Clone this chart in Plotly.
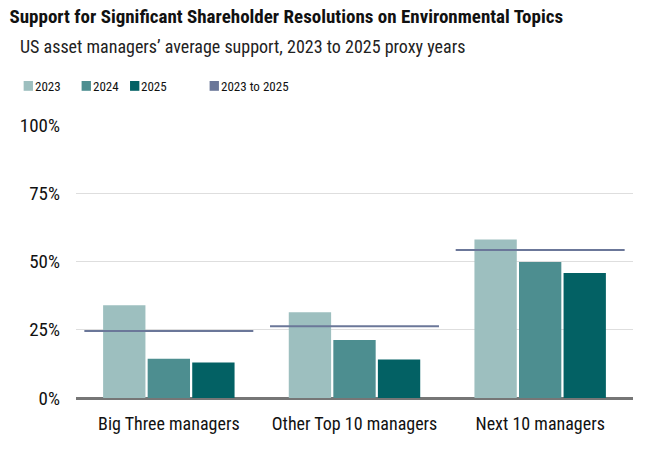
import plotly.graph_objects as go

categories = ["Big Three managers", "Other Top 10 managers", "Next 10 managers"]
years = ["2023", "2024", "2025"]
support_2023 = [34.0, 31.4, 58.1]
support_2024 = [14.4, 21.2, 49.8]
support_2025 = [13.0, 14.1, 45.8]
support_2023_to_2025 = [24.5, 26.3, 54.2]
avg_label = "2023 to 2025"
y_ticks = [0, 25, 50, 75, 100]
y_tick_labels = ["0%", "25%", "50%", "75%", "100%"]
title_text = "Support for Significant Shareholder Resolutions on Environmental Topics"
subtitle_text = "US asset managers’ average support, 2023 to 2025 proxy years"

colors = ["#9dbfbf", "#4d8e90", "#036164"]
line_color = "#6b7799"
FONT = "Roboto Condensed, Roboto, sans-serif"

# page body has an 8px margin: figure fills the rest of the 651x462 window
OFF = 8
W, H = 651 - OFF, 462 - OFF
PL, PR, PT, PB = 66, 633, 125, 398          # plot area in window pixels
L, R, T, B = PL - OFF, 651 - PR, PT - OFF, 462 - PB


def px_x(px):
    return (px - PL) / (PR - PL)


def px_y(py):
    return (PB - py) / (PB - PT)


fig = go.Figure()
xpos = list(range(len(categories)))
for name, vals, c in zip(years, [support_2023, support_2024, support_2025], colors):
    fig.add_trace(go.Bar(x=xpos, y=vals, name=name, marker=dict(color=c, line=dict(width=0)),
                         showlegend=False))

half = 0.455
lx, ly = [], []
for i, v in enumerate(support_2023_to_2025):
    lx += [i - half, i + half, None]
    ly += [v, v, None]
fig.add_trace(go.Scatter(x=lx, y=ly, mode="lines", line=dict(color=line_color, width=2),
                         name=avg_label, showlegend=False, hoverinfo="skip"))

# compact legend, laid out like the reference
legend_items = [(years[0], colors[0], 12.7), (years[1], colors[1], 71.7),
                (years[2], colors[2], 121), (avg_label, line_color, 202)]
shapes = []
annotations = [dict(text=subtitle_text, xref="paper", yref="paper", x=px_x(OFF + 1), y=px_y(46.5),
                    xanchor="left", yanchor="middle", showarrow=False, borderpad=0, borderwidth=0,
                    font=dict(family=FONT, size=18, color="#222"))]
for label, c, x0 in legend_items:
    shapes.append(dict(type="rect", xref="paper", yref="paper",
                       x0=px_x(x0), x1=px_x(x0 + 9.5), y0=px_y(90.8), y1=px_y(81),
                       fillcolor=c, line=dict(width=0)))
    annotations.append(dict(text=label, xref="paper", yref="paper", x=px_x(x0 + 9.5),
                            y=px_y(86), xanchor="left", yanchor="middle", showarrow=False,
                            font=dict(family=FONT, size=13, color="#111")))

fig.update_layout(
    width=W, height=H,
    margin=dict(l=L, r=R, t=T, b=B),
    paper_bgcolor="white", plot_bgcolor="white",
    font=dict(family=FONT, size=18, color="#1a1a1a"),
    barmode="group", bargap=0.28, bargroupgap=0.05,
    title=dict(text="<b>" + title_text + "</b>",
               font=dict(family=FONT, size=19, color="#111"),
               x=1.5 / W, xanchor="left", xref="container",
               y=1 - 2 / H, yanchor="top", yref="container"),
    showlegend=False,
    shapes=shapes,
    annotations=annotations,
    xaxis=dict(range=[-0.5, 2.5], tickvals=xpos, ticktext=categories, showgrid=False,
               zeroline=False, showline=False, ticks="", ticklabelstandoff=13,
               tickfont=dict(family=FONT, size=18, color="#111"), fixedrange=True),
    yaxis=dict(range=[0, 100], tickvals=y_ticks, ticktext=y_tick_labels, showgrid=True,
               gridcolor="#dedede", gridwidth=1, zeroline=True, zerolinecolor="#767676",
               zerolinewidth=2.5, showline=False, ticks="", ticklabelstandoff=15,
               tickfont=dict(family=FONT, size=19, color="#111"), fixedrange=True),
)

fig.write_html("out.html")
